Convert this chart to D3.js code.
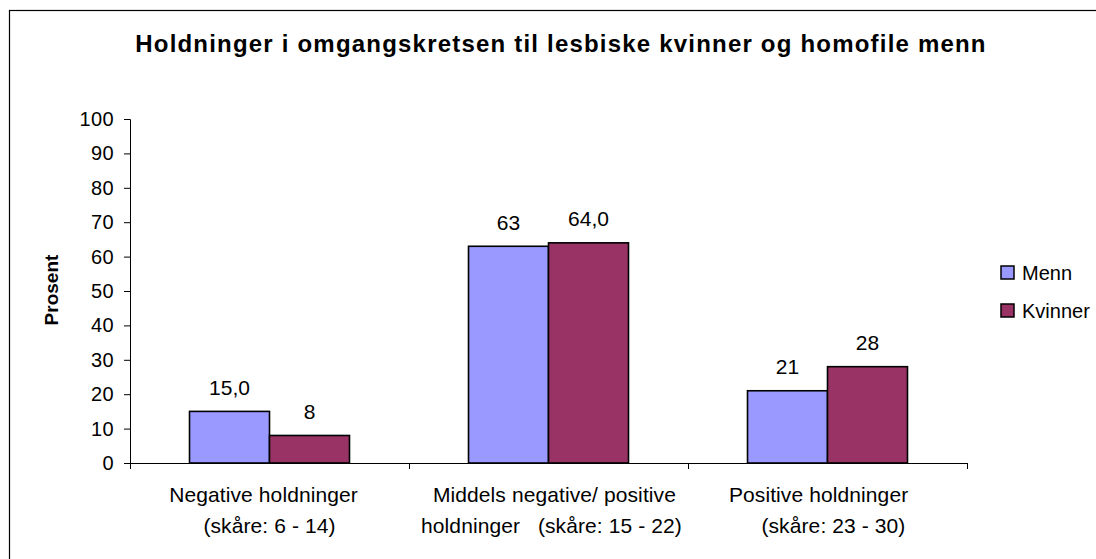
<!DOCTYPE html>
<html>
<head>
<meta charset="utf-8">
<script src="https://cdn.jsdelivr.net/npm/d3@7.9.0/dist/d3.min.js"></script>
<style>
  html, body { margin: 0; padding: 0; background: #fff; }
  svg { display: block; font-family: 'Liberation Sans', Arial, sans-serif; }
  .cat { white-space: pre; }
</style>
</head>
<body>
<svg id="chart" width="1096" height="559"></svg>
<script>
// chart data
const categories = ['neg', 'mid', 'pos'];
const categoryLines = [
  ['Negative holdninger  ', '(skåre: 6 - 14)'],
  ['  Middels negative/ positive', ' holdninger   (skåre: 15 - 22)'],
  ['Positive holdninger   ', '  (skåre: 23 - 30)'],
];
const seriesNames = ['Menn', 'Kvinner'];
const menn = [15.0, 63, 21];
const kvinner = [8, 64.0, 28];
const mennLabels = ['15,0', '63', '21'];
const kvinnerLabels = ['8', '64,0', '28'];
const yTicks = [0, 10, 20, 30, 40, 50, 60, 70, 80, 90, 100];
const colors = ['#9999ff', '#993366'];

const title = 'Holdninger i omgangskretsen til lesbiske kvinner og homofile menn';

const svg = d3.select('#chart');

// outer frame (runs off the right and bottom edge like the source)
svg.append('rect')
  .attr('x', 9.5).attr('y', 10.5)
  .attr('width', 1200).attr('height', 700)
  .attr('fill', '#fff').attr('stroke', '#000').attr('stroke-width', 1.2);

svg.append('text')
  .attr('x', 561).attr('y', 52)
  .attr('text-anchor', 'middle')
  .style('font-size', '24px').style('font-weight', 'bold')
  .style('letter-spacing', '1.2px')
  .text(title);

const plotLeft = 130, plotRight = 967, plotTop = 119, plotBottom = 463;

const y = d3.scaleLinear().domain([0, 100]).range([plotBottom, plotTop]);
const x0 = d3.scaleBand().domain(categories).range([plotLeft, plotRight]).padding(0);
const x1 = d3.scaleBand().domain(seriesNames).range([0, x0.bandwidth()])
  .paddingInner(0).paddingOuter(0.744);

// y axis
const yAxis = svg.append('g')
  .attr('transform', `translate(${plotLeft},0)`)
  .call(d3.axisLeft(y).tickValues(yTicks).tickSize(6).tickPadding(10));
yAxis.select('.domain').attr('stroke', '#000');
yAxis.selectAll('.tick line').attr('stroke', '#000');
yAxis.selectAll('.tick text')
  .attr('fill', '#000')
  .style('font-size', '20px')
  .style('letter-spacing', '0.4px')
  .style('font-family', "'Liberation Sans', Arial, sans-serif");

// x axis line with ticks at category boundaries
const xAxis = svg.append('g')
  .attr('transform', `translate(0,${plotBottom})`)
  .call(d3.axisBottom(d3.scaleLinear().domain([0, 3]).range([plotLeft, plotLeft + 3 * x0.step()]))
    .tickValues([0, 1, 2, 3]).tickSize(6).tickFormat(''));
xAxis.select('.domain').attr('stroke', '#000');
xAxis.selectAll('.tick line').attr('stroke', '#000');

// bars
const rows = categories.map((c, i) => ({
  cat: c,
  values: [
    { s: 'Menn', v: menn[i], label: mennLabels[i] },
    { s: 'Kvinner', v: kvinner[i], label: kvinnerLabels[i] },
  ],
}));

const groups = svg.append('g').selectAll('g')
  .data(rows)
  .join('g')
  .attr('transform', (d) => `translate(${x0(d.cat)},0)`);

groups.selectAll('rect')
  .data((d) => d.values)
  .join('rect')
  .attr('x', (d) => x1(d.s))
  .attr('y', (d) => y(d.v))
  .attr('width', x1.bandwidth())
  .attr('height', (d) => y(0) - y(d.v))
  .attr('fill', (d, i) => colors[i])
  .attr('stroke', '#000')
  .attr('stroke-width', 1.6);

groups.selectAll('text.val')
  .data((d) => d.values)
  .join('text')
  .attr('class', 'val')
  .attr('x', (d) => x1(d.s) + x1.bandwidth() / 2)
  .attr('y', (d) => y(d.v) - 24)
  .attr('dy', '0.35em')
  .attr('text-anchor', 'middle')
  .style('font-size', '21px')
  .text((d) => d.label);

// category labels
categories.forEach((c, i) => {
  const cx = x0(c) + x0.bandwidth() / 2;
  categoryLines[i].forEach((line, j) => {
    svg.append('text')
      .attr('class', 'cat')
      .attr('x', cx)
      .attr('y', 495 + j * 31)
      .attr('dy', '0.35em')
      .attr('text-anchor', 'middle')
      .style('font-size', '21px')
      .style('letter-spacing', '0.1px')
      .text(line);
  });
});

// y axis title
svg.append('text')
  .attr('transform', 'translate(51,290) rotate(-90)')
  .attr('text-anchor', 'middle')
  .attr('dy', '0.35em')
  .style('font-size', '19px').style('font-weight', 'bold')
  .text('Prosent');

// legend
const legend = svg.append('g').attr('transform', 'translate(1001,266)');
const items = legend.selectAll('g')
  .data(seriesNames)
  .join('g')
  .attr('transform', (d, i) => `translate(0,${i * 38})`);
items.append('rect')
  .attr('width', 13).attr('height', 13)
  .attr('fill', (d, i) => colors[i])
  .attr('stroke', '#000').attr('stroke-width', 1.5);
items.append('text')
  .attr('x', 21).attr('y', 6.5).attr('dy', '0.35em')
  .style('font-size', '20px')
  .text((d) => d);
</script>
</body>
</html>
